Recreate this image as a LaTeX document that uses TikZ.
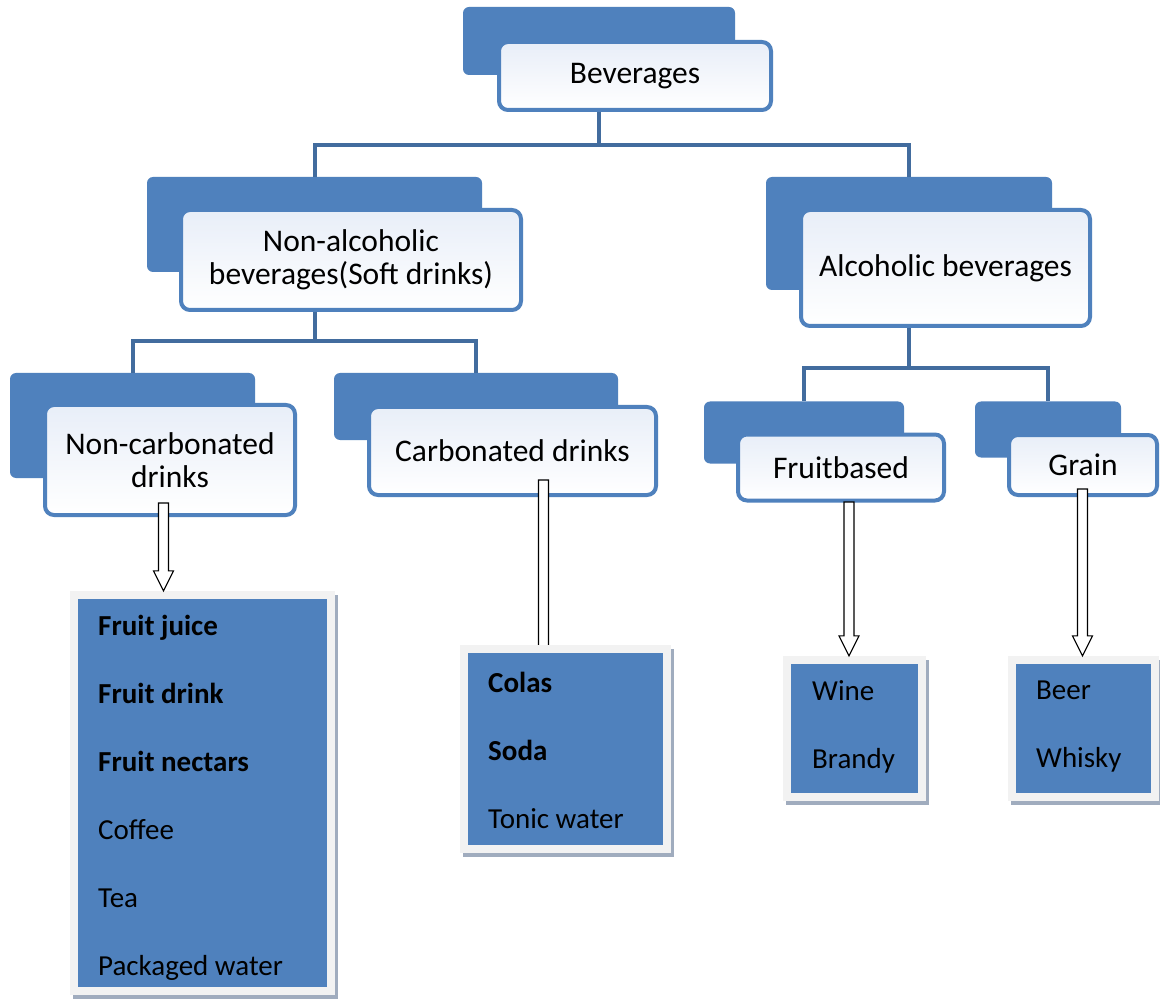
\documentclass[tikz,border=0pt]{standalone}
\usepackage{fontspec}
\setmainfont{Carlito}
\usetikzlibrary{calc,shadows}
\definecolor{ofblue}{RGB}{79,129,189}
\definecolor{connblue}{RGB}{66,108,158}
\definecolor{frameg}{RGB}{242,242,242}
\definecolor{shadowg}{RGB}{160,172,190}
\definecolor{lightfill}{RGB}{232,238,248}
\begin{document}
\begin{tikzpicture}[x=1pt,y=-1pt,
  backbox/.style={fill=ofblue, rounded corners=6pt, inner sep=0pt},
  frontbox/.style={draw=ofblue, line width=4pt, rounded corners=9pt,
    top color=lightfill, bottom color=white, inner sep=0pt, align=center,
    font=\fontsize{31.5}{33}\selectfont},
  conn/.style={draw=connblue, line width=4pt},
  holl/.style={draw=black, line width=1.1pt, fill=white, line join=miter},
  listframe/.style={fill=frameg, inner sep=0pt,
    drop shadow={shadow xshift=3pt, shadow yshift=-4pt, fill=shadowg, opacity=1}},
  listinner/.style={fill=ofblue, inner sep=0pt},
  listtext/.style={inner sep=0pt, align=left, anchor=west,
    font=\fontsize{29}{68}\selectfont}
]
\useasboundingbox (0,0) rectangle (1160,1000);
\fill[white] (0,0) rectangle (1160,1000);

% ---------- back boxes ----------
\node[backbox, minimum width=272pt, minimum height=68pt]  (bevB) at (599,41) {};
\node[backbox, minimum width=335pt, minimum height=95pt]  (naB)  at (314.5,224.5) {};
\node[backbox, minimum width=286pt, minimum height=113pt] (alB)  at (909,233.5) {};
\node[backbox, minimum width=245pt, minimum height=105pt] (ncB)  at (132.5,425.5) {};
\node[backbox, minimum width=284pt, minimum height=67pt]  (caB)  at (476,406.5) {};
\node[backbox, minimum width=200pt, minimum height=62pt]  (fbB)  at (804,432.5) {};
\node[backbox, minimum width=146pt, minimum height=56pt]  (grB)  at (1048,429.5) {};

% ---------- front boxes ----------
\node[frontbox, minimum width=272pt, minimum height=68pt]  (bevF) at (635,76) {Beverages};
\node[frontbox, minimum width=340pt, minimum height=100pt] (naF)  at (351,260) {Non-alcoholic\\beverages(Soft drinks)};
\node[frontbox, minimum width=289pt, minimum height=116pt] (alF)  at (945.5,268) {Alcoholic beverages};
\node[frontbox, minimum width=250pt, minimum height=110pt] (ncF)  at (170,460) {Non-carbonated\\drinks};
\node[frontbox, minimum width=287pt, minimum height=88pt]  (caF)  at (512.5,451) {Carbonated drinks};
\node[frontbox, minimum width=206pt, minimum height=66pt]  (fbF)  at (841,467.5) {Fruitbased};
\node[frontbox, minimum width=148pt, minimum height=60pt]  (grF)  at (1083,465) {Grain};

% ---------- tree connectors ----------
\coordinate (j1) at (599,145);
\coordinate (j2) at (314.5,341);
\coordinate (j3) at (909,368);
\draw[conn] (bevB.center |- bevF.south) -- (j1);
\draw[conn] (naB.north) -- (naB.north |- j1) -- (alB.north |- j1) -- (alB.north);
\draw[conn] (naB.center |- naF.south) -- (j2);
\draw[conn] (ncB.north) -- (ncB.north |- j2) -- (caB.north |- j2) -- (caB.north);
\draw[conn] (alB.center |- alF.south) -- (j3);
\draw[conn] (fbB.north) -- (fbB.north |- j3) -- (grB.north |- j3) -- (grB.north);

% ---------- hollow arrows ----------
\newcommand\holarrow[2]{%
  \draw[holl] ($(#1)+(-5,0)$) -- ($(#2)+(-5,-20)$) -- ($(#2)+(-10,-20)$) -- (#2)
    -- ($(#2)+(10,-20)$) -- ($(#2)+(5,-20)$) -- ($(#1)+(5,0)$) -- cycle;}
\coordinate (ncA) at (163.5,503);
\coordinate (caA) at (543.5,480);
\coordinate (fbA) at (849,502);
\coordinate (grA) at (1082.5,489);

\holarrow{caA}{$(caA)+(0,190)$}

% ---------- list boxes ----------
\node[listframe, minimum width=265pt, minimum height=404pt] (ncL) at (202.5,793) {};
\node[listinner, minimum width=249pt, minimum height=388pt] (ncI) at (ncL.center) {};
\node[listtext] (ncT) at (98,798)
  {\textbf{Fruit juice}\\\textbf{Fruit drink}\\\textbf{Fruit nectars}\\Coffee\\Tea\\Packaged water};

\node[listframe, minimum width=211pt, minimum height=208pt] (caL) at (565.5,749) {};
\node[listinner, minimum width=195pt, minimum height=192pt] (caI) at (caL.center) {};
\node[listtext] (caT) at (488,750) {\textbf{Colas}\\\textbf{Soda}\\Tonic water};

\node[listframe, minimum width=143pt, minimum height=145pt] (fbL) at (854.5,728.5) {};
\node[listinner, minimum width=127pt, minimum height=129pt] (fbI) at (fbL.center) {};
\node[listtext] (fbT) at (812,727) {Wine\\Brandy};

\node[listframe, minimum width=151pt, minimum height=145pt] (grL) at (1083.5,728.5) {};
\node[listinner, minimum width=135pt, minimum height=129pt] (grI) at (grL.center) {};
\node[listtext] (grT) at (1036,727) {Beer\\Whisky};

\holarrow{ncA}{ncA |- ncL.north}
\holarrow{fbA}{fbA |- fbL.north}
\holarrow{grA}{grA |- grL.north}
\end{tikzpicture}
\end{document}
